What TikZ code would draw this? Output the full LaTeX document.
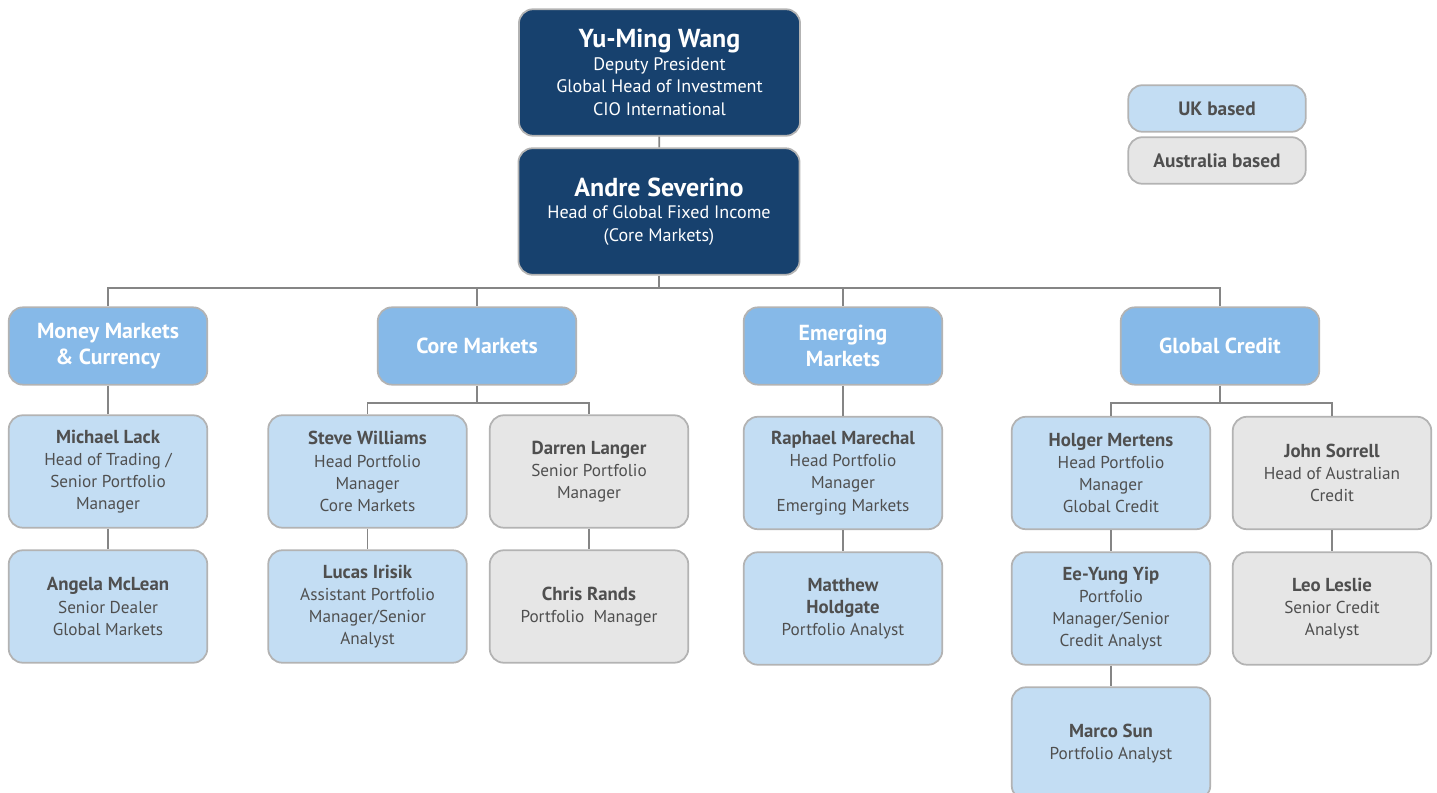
\documentclass[tikz,border=0pt]{standalone}
\usepackage{fontspec}
\setmainfont{PT Sans}
\usepackage{tikz}
\usetikzlibrary{positioning}

\definecolor{navy}{HTML}{17416E}
\definecolor{headblue}{HTML}{86B9E8}
\definecolor{ukblue}{HTML}{C3DDF3}
\definecolor{augrey}{HTML}{E6E6E6}
\definecolor{rim}{HTML}{B3B3B3}
\definecolor{wire}{HTML}{858585}
\definecolor{ink}{HTML}{4F4F4F}

\newcommand{\staffname}[1]{{\fontsize{10.7}{12.6}\selectfont\bfseries #1}}

\tikzset{
  box/.style={rectangle, rounded corners=8pt, draw=rim, line width=1pt,
    align=center, inner sep=0pt, font=\fontsize{9.8}{12.6}\selectfont},
  chief/.style={box, fill=navy, text=white, minimum width=160pt, minimum height=72pt,
    font=\fontsize{10.3}{12.9}\selectfont},
  desk/.style={box, fill=headblue, text=white, minimum width=113pt, minimum height=44pt,
    font=\fontsize{12.4}{14.6}\selectfont\bfseries},
  uk/.style={box, fill=ukblue, text=ink, minimum width=113pt, minimum height=64pt},
  au/.style={box, fill=augrey, text=ink, minimum width=113pt, minimum height=64pt},
  key/.style={box, text=ink, minimum width=101pt, minimum height=26.5pt, font=\fontsize{11}{12}\selectfont\bfseries},
  link/.style={draw=wire, line width=1.1pt}
}

\begin{document}
\begin{tikzpicture}[x=0.02cm, y=-0.02cm]
  \useasboundingbox (0,0) rectangle (1437,793);
  \clip (0,0) rectangle (1437,793);

  % top of the tree
  \node[chief] (wang) at (659.5,72.5) {{\fontsize{14.8}{17.5}\selectfont\bfseries Yu-Ming Wang}\\Deputy President\\Global Head of Investment\\CIO International};
  \node[chief] (severino) at (659,211.5) {{\fontsize{14.8}{19}\selectfont\bfseries Andre Severino}\\Head of Global Fixed Income\\(Core Markets)};

  % legend
  \node[key, fill=ukblue] (ukkey) at (1217,108.5) {UK based};
  \node[key, fill=augrey] (aukey) at (1217,160.5) {Australia based};

  % desks
  \node[desk] (money) at (108,346) {Money Markets\\\& Currency};
  \node[desk] (core) at (477,346) {Core Markets};
  \node[desk] (emerging) at (843,346) {Emerging\\Markets};
  \node[desk] (credit) at (1220,346) {Global Credit};

  % money markets
  \node[uk] (lack) at (108,471.5) {\staffname{Michael Lack}\\Head of Trading /\\Senior Portfolio\\Manager};
  \node[uk] (mclean) at (108,606.5) {\staffname{Angela McLean}\\Senior Dealer\\Global Markets};

  % core markets
  \node[uk] (williams) at (367.5,471.5) {\staffname{Steve Williams}\\Head Portfolio\\Manager\\Core Markets};
  \node[uk] (irisik) at (367.5,606.5) {\staffname{Lucas Irisik}\\Assistant Portfolio\\Manager/Senior\\Analyst};
  \node[au] (langer) at (589,471.5) {\staffname{Darren Langer}\\Senior Portfolio\\Manager};
  \node[au] (rands) at (589,606.5) {\staffname{Chris Rands}\\Portfolio\ \ Manager};

  % emerging markets
  \node[uk] (marechal) at (843,473) {\staffname{Raphael Marechal}\\Head Portfolio\\Manager\\Emerging Markets};
  \node[uk] (holdgate) at (843,608.5) {\staffname{Matthew}\\\staffname{Holdgate}\\Portfolio Analyst};

  % global credit
  \node[uk] (mertens) at (1111,473) {\staffname{Holger Mertens}\\Head Portfolio\\Manager\\Global Credit};
  \node[uk] (yip) at (1111,608.5) {\staffname{Ee-Yung Yip}\\Portfolio\\Manager/Senior\\Credit Analyst};
  \node[uk] (sun) at (1111,743.5) {\staffname{Marco Sun}\\Portfolio Analyst};
  \node[au] (sorrell) at (1332,473) {\staffname{John Sorrell}\\Head of Australian\\Credit};
  \node[au] (leslie) at (1332,608.5) {\staffname{Leo Leslie}\\Senior Credit\\Analyst};

  % connectors
  \coordinate (bus) at (659,288);
  \coordinate (corebus) at (477,403);
  \coordinate (creditbus) at (1220,403);
  \draw[link] (wang) -- (severino);
  \draw[link] (severino) -- (bus);
  \draw[link] (bus) -| (money.north);
  \draw[link] (bus) -| (core.north);
  \draw[link] (bus) -| (emerging.north);
  \draw[link] (bus) -| (credit.north);
  \draw[link] (money) -- (lack);
  \draw[link] (lack) -- (mclean);
  \draw[link] (core) -- (corebus);
  \draw[link] (corebus) -| (williams.north);
  \draw[link] (corebus) -| (langer.north);
  \draw[link] (williams) -- (irisik);
  \draw[link] (langer) -- (rands);
  \draw[link] (emerging) -- (marechal);
  \draw[link] (marechal) -- (holdgate);
  \draw[link] (credit) -- (creditbus);
  \draw[link] (creditbus) -| (mertens.north);
  \draw[link] (creditbus) -| (sorrell.north);
  \draw[link] (mertens) -- (yip);
  \draw[link] (yip) -- (sun);
  \draw[link] (sorrell) -- (leslie);
\end{tikzpicture}
\end{document}
